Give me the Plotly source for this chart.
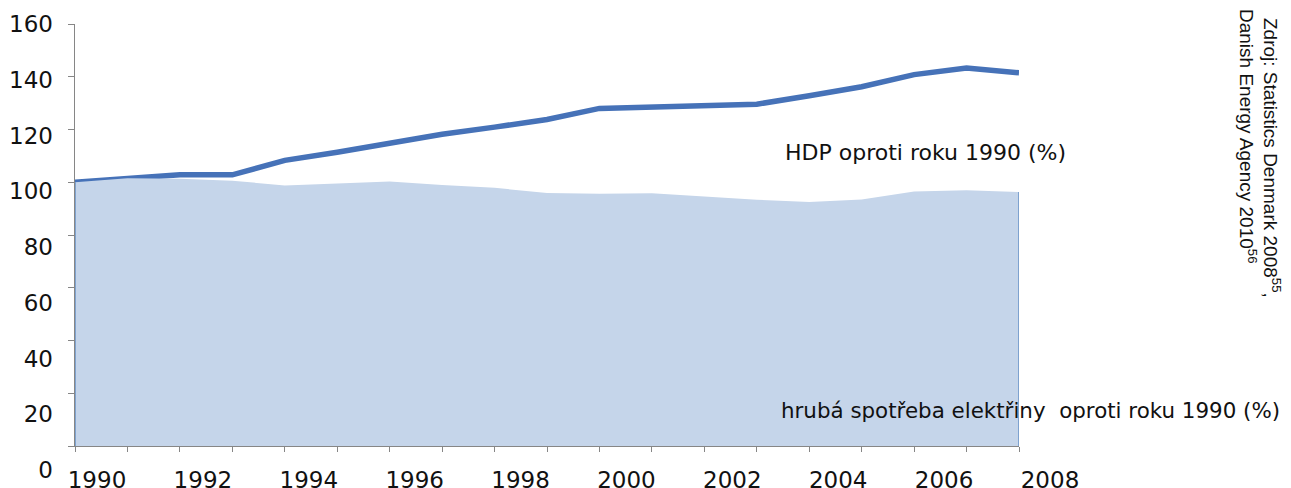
"""HDP a hrubá spotřeba elektřiny v Dánsku, index 1990 = 100."""

import plotly.graph_objects as go

# the page puts the figure 8 px from the window's top-left corner
PAD = 8
W, H = 1291 - PAD, 488 - PAD

years = list(range(1990, 2009))
hdp = [100.0, 101.5, 102.8, 102.8, 108.3, 111.4, 114.8, 118.2, 120.9, 123.8,
       128.0, 128.6, 129.2, 129.6, 132.8, 136.2, 140.8, 143.3, 141.5]
spotreba = [100.0, 101.5, 101.3, 100.6, 98.8, 99.6, 100.3, 99.0, 97.9, 95.9,
            95.6, 95.8, 94.6, 93.4, 92.5, 93.5, 96.5, 97.0, 96.3]
y_ticks = list(range(0, 161, 20))

LINE = "#4672B8"
AREA = "#C5D5EA"
AXIS = "#868686"
FONT = "DejaVu Sans"
SRC_FONT = dict(family="Liberation Sans", size=19, color="#111111")


def fx(p):
    # window pixel -> paper fraction
    return (p - PAD) / W


def fy(p):
    return 1 - (p - PAD) / H


fig = go.Figure()

# HDP line first, the area is drawn over it (as in the original)
fig.add_trace(go.Scatter(
    x=years, y=hdp, mode="lines", name="HDP",
    line=dict(color=LINE, width=5.5), hoverinfo="skip",
))
fig.add_trace(go.Scatter(
    x=years, y=spotreba, mode="lines", fill="tozeroy", name="spotřeba",
    fillcolor=AREA, line=dict(width=0, color=AREA), hoverinfo="skip",
))
# thin edges on both sides of the area
for i in (0, -1):
    fig.add_trace(go.Scatter(
        x=[years[i], years[i]], y=[0, spotreba[i]], mode="lines",
        line=dict(color="#4F81BD", width=1.2), hoverinfo="skip",
    ))

# invisible trace carrying the (shifted) tick labels
fig.add_trace(go.Scatter(
    x=years, y=hdp, xaxis="x2", yaxis="y2", mode="lines",
    line=dict(color="rgba(0,0,0,0)"), hoverinfo="skip",
))

fig.update_layout(
    width=W, height=H,
    margin=dict(l=0, r=0, t=0, b=0, autoexpand=False),
    paper_bgcolor="white",
    plot_bgcolor="rgba(0,0,0,0)",
    showlegend=False,
    font=dict(family=FONT, size=22, color="#111111"),
    xaxis=dict(
        domain=[fx(75), fx(1019)], range=[1990, 2008], anchor="y",
        tick0=1990, dtick=1, ticks="outside", ticklen=5, tickcolor=AXIS,
        showticklabels=False, showline=True, linecolor=AXIS, linewidth=1,
        showgrid=False, zeroline=False, automargin=False,
    ),
    yaxis=dict(
        domain=[fy(446), fy(24)], range=[0, 160], anchor="x",
        tickvals=y_ticks, ticks="outside", ticklen=6, tickcolor=AXIS,
        showticklabels=False, showline=True, linecolor=AXIS, linewidth=1,
        showgrid=False, zeroline=False, automargin=False,
    ),
    xaxis2=dict(
        domain=[fx(97), fx(1050)], range=[1990, 2008], anchor="free",
        position=fy(464), tick0=1990, dtick=2, ticks="",
        showline=False, showgrid=False, zeroline=False, automargin=False,
        tickfont=dict(family=FONT, size=23, color="#111111"),
    ),
    yaxis2=dict(
        domain=[fy(470), fy(24)], range=[0, 160], anchor="free",
        position=fx(53), tickvals=y_ticks, ticks="",
        showline=False, showgrid=False, zeroline=False, automargin=False,
        tickfont=dict(family=FONT, size=23, color="#111111"),
    ),
    annotations=[
        dict(
            text="HDP oproti roku 1990 (%)", xref="paper", yref="paper",
            x=fx(783), y=fy(152), xanchor="left", yanchor="middle",
            showarrow=False, font=dict(family=FONT, size=22, color="#111111"),
        ),
        dict(
            text="hrubá spotřeba elektřiny&nbsp; oproti roku 1990 (%)",
            xref="paper", yref="paper",
            x=fx(779), y=fy(410), xanchor="left", yanchor="middle",
            showarrow=False, font=dict(family=FONT, size=21.4, color="#111111"),
        ),
        dict(
            text="Zdroj: Statistics Denmark 2008<sup>55</sup>,",
            xref="paper", yref="paper", x=fx(1272), y=fy(158),
            xanchor="center", yanchor="middle", textangle=90,
            showarrow=False, font=SRC_FONT,
        ),
        dict(
            text="Danish Energy Agency 2010<sup>56</sup>",
            xref="paper", yref="paper", x=fx(1248), y=fy(136),
            xanchor="center", yanchor="middle", textangle=90,
            showarrow=False, font=SRC_FONT,
        ),
    ],
)

fig.write_html("out.html")
